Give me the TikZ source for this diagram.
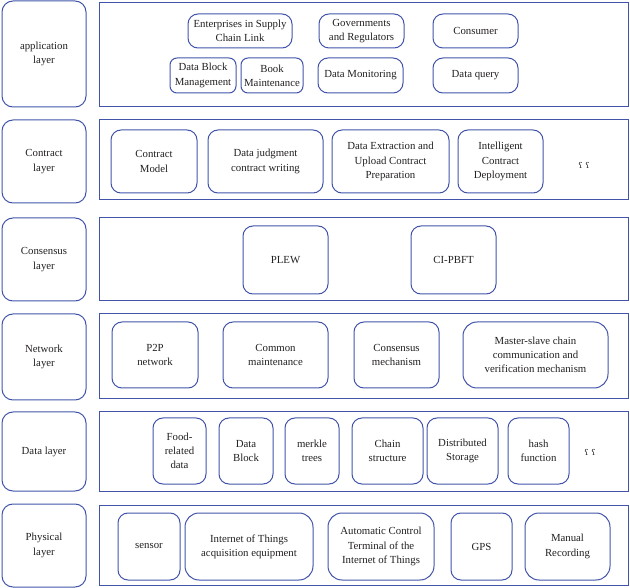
\documentclass[tikz,border=0pt]{standalone}
\usepackage{fontspec}
\setmainfont{Liberation Serif}
\newfontfamily\dotsfont{DejaVu Serif}
\usetikzlibrary{positioning}
\definecolor{layerblue}{RGB}{66,84,170}
\definecolor{txtgray}{RGB}{35,31,32}

\begin{document}
\begin{tikzpicture}[x=1pt,y=-1pt,
    every node/.style={font=\fontsize{10.8}{14.3}\selectfont, text=txtgray, align=center, inner sep=0pt},
    layerbox/.style={draw=layerblue, line width=1pt, rounded corners=11pt, minimum width=84pt},
    framebox/.style={draw=layerblue, line width=1pt, minimum width=529pt},
    itembox/.style={draw=layerblue, line width=1pt, rounded corners=10pt}]
\useasboundingbox (0,0) rectangle (630,588);
% layer names
\node[layerbox, minimum height=106pt] (appl) at (44,54) {application\\layer};
\node[layerbox, minimum height=83pt] (contl) at (44,161.5) {Contract\\layer};
\node[layerbox, minimum height=83pt] (consl) at (44,259.5) {Consensus\\layer};
\node[layerbox, minimum height=86pt] (netl) at (44,357) {Network\\layer};
\node[layerbox, minimum height=79pt] (datal) at (44,451.5) {Data layer};
\node[layerbox, minimum height=83pt] (phyl) at (44,545.5) {Physical\\layer};
% frames
\node[framebox, minimum height=104pt] (appf) at (363.5,55) {};
\node[framebox, minimum height=80pt] (contf) at (363.5,160) {};
\node[framebox, minimum height=83pt] (consf) at (363.5,259.5) {};
\node[framebox, minimum height=85pt] (netf) at (363.5,356.5) {};
\node[framebox, minimum height=79pt] (dataf) at (363.5,451.5) {};
\node[framebox, minimum height=80pt] (phyf) at (363.5,545) {};
% application layer
\node[itembox, minimum width=104pt, minimum height=34pt] (ent) at (240,31) {Enterprises in Supply\\Chain Link};
\node[itembox, minimum width=85pt, minimum height=34pt] (gov) at (361.5,31) {Governments\\and Regulators};
\node[itembox, minimum width=85pt, minimum height=34pt] (cons) at (475.5,31) {Consumer};
\node[itembox, rounded corners=7pt, minimum width=66pt, minimum height=35pt] (dbm) at (203,75.5) {Data Block\\Management};
\node[itembox, rounded corners=7pt, minimum width=62pt, minimum height=35pt] (book) at (272,75.5) {Book\\Maintenance};
\node[itembox, minimum width=85pt, minimum height=35pt] (mon) at (360.5,75.5) {Data Monitoring};
\node[itembox, minimum width=85pt, minimum height=35pt] (query) at (475.5,75.5) {Data query};
% contract layer
\node[itembox, minimum width=86pt, minimum height=63pt] (model) at (154,161.5) {Contract\\Model};
\node[itembox, minimum width=115pt, minimum height=63pt] (judge) at (265.5,161.5) {Data judgment\\contract writing};
\node[itembox, minimum width=117pt, minimum height=63pt] (extr) at (390.5,161.5) {Data Extraction and\\Upload Contract\\Preparation};
\node[itembox, minimum width=85pt, minimum height=63pt] (deploy) at (500.5,161.5) {Intelligent\\Contract\\Deployment};
\node (contdots) at (584,165) {\dotsfont\fontsize{8}{9}\selectfont ʕ ʕ};
% consensus layer
\node[itembox, minimum width=85pt, minimum height=68pt] (plew) at (285.5,260) {PLEW};
\node[itembox, minimum width=85pt, minimum height=68pt] (pbft) at (453.5,260) {CI-PBFT};
% network layer
\node[itembox, minimum width=86pt, minimum height=66pt] (ptop) at (155,355) {P2P\\network};
\node[itembox, minimum width=105pt, minimum height=66pt] (common) at (275.5,355) {Common\\maintenance};
\node[itembox, minimum width=85pt, minimum height=66pt] (mech) at (396.5,355) {Consensus\\mechanism};
\node[itembox, rounded corners=14pt, minimum width=145pt, minimum height=66pt] (master) at (535.5,355) {Master-slave chain\\communication and\\verification mechanism};
% data layer
\node[itembox, minimum width=53pt, minimum height=66pt] (food) at (179.5,451) {Food-\\related\\data};
\node[itembox, minimum width=54pt, minimum height=66pt] (block) at (246,451) {Data\\Block};
\node[itembox, minimum width=54pt, minimum height=66pt] (merkle) at (312,451) {merkle\\trees};
\node[itembox, minimum width=71pt, minimum height=66pt] (chain) at (387.5,451) {Chain\\structure};
\node[itembox, minimum width=71pt, minimum height=66pt] (dist) at (462.5,451) {Distributed\\Storage};
\node[itembox, minimum width=61pt, minimum height=66pt] (hash) at (538.5,451) {hash\\function};
\node (datadots) at (590,452) {\dotsfont\fontsize{8}{9}\selectfont ʕ ʕ};
% physical layer
\node[itembox, minimum width=62pt, minimum height=67pt] (sensor) at (149,546.5) {sensor};
\node[itembox, rounded corners=14pt, minimum width=128pt, minimum height=67pt] (iot) at (249,546.5) {Internet of Things\\acquisition equipment};
\node[itembox, rounded corners=14pt, minimum width=106pt, minimum height=67pt] (auto) at (381,546.5) {Automatic Control\\Terminal of the\\Internet of Things};
\node[itembox, minimum width=61pt, minimum height=67pt] (gps) at (481.5,546.5) {GPS};
\node[itembox, rounded corners=14pt, minimum width=85pt, minimum height=67pt] (manual) at (567.5,546.5) {Manual\\Recording};
\end{tikzpicture}
\end{document}
